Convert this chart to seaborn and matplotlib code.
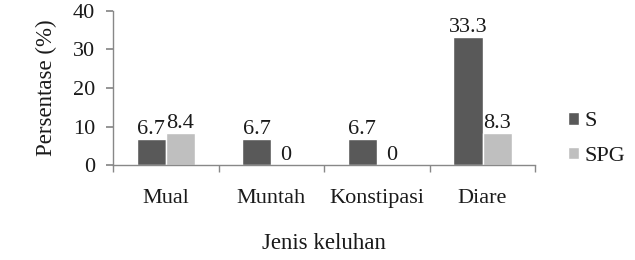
import matplotlib
matplotlib.use("Agg")
import matplotlib.pyplot as plt
import seaborn as sns
import pandas as pd

categories = ["Mual", "Muntah", "Konstipasi", "Diare"]
s_values = [6.7, 6.7, 6.7, 33.3]
spg_values = [8.4, 0, 0, 8.3]
s_labels = ["6.7", "6.7", "6.7", "33.3"]
spg_labels = ["8.4", "0", "0", "8.3"]
series = ["S", "SPG"]
colors = ["#595959", "#bfbfbf"]

df = pd.DataFrame({
    "kategori": categories * 2,
    "nilai": s_values + spg_values,
    "seri": [series[0]] * 4 + [series[1]] * 4,
})

sns.set_theme(style="white")
plt.rcParams["font.family"] = ["Liberation Serif", "DejaVu Serif"]

fig = plt.figure(figsize=(6.35, 2.6), dpi=100)
ax = fig.add_axes([0.178, 0.365, 0.665, 0.593])

sns.barplot(data=df, x="kategori", y="nilai", hue="seri", palette=colors,
            width=0.55, ax=ax, saturation=1, errorbar=None)

for cont, labs in zip(ax.containers, [s_labels, spg_labels]):
    ax.bar_label(cont, labels=labs, padding=0, fontsize=16, color="#1a1a1a")

ax.set_ylim(0, 40)
ax.set_yticks([0, 10, 20, 30, 40])
ax.set_xlim(-0.5, 3.5)
ax.set_ylabel("Persentase (%)", fontsize=16.5, labelpad=11, color="#1a1a1a")
ax.set_xlabel("Jenis keluhan", fontsize=16.5, labelpad=18, color="#1a1a1a")
ax.tick_params(axis="y", labelsize=16, left=True, length=5, color="#888888", pad=8,
               labelcolor="#1a1a1a")
ax.tick_params(axis="x", labelsize=16, bottom=False, pad=11, labelcolor="#1a1a1a")
# category separator ticks on x axis
ax.set_xticks([-0.5, 0.5, 1.5, 2.5, 3.5], minor=True)
ax.tick_params(axis="x", which="minor", bottom=True, length=5, color="#888888", direction="out")

for sp in ["top", "right"]:
    ax.spines[sp].set_visible(False)
for sp in ["left", "bottom"]:
    ax.spines[sp].set_color("#888888")
    ax.spines[sp].set_linewidth(1)

leg = ax.legend(title=None, frameon=False, fontsize=16, loc="center left",
                bbox_to_anchor=(1.03, 0.17), handlelength=0.5, handleheight=0.5,
                handletextpad=0.25, labelspacing=0.7, labelcolor="#1a1a1a")

fig.savefig("out.png", dpi=100)
